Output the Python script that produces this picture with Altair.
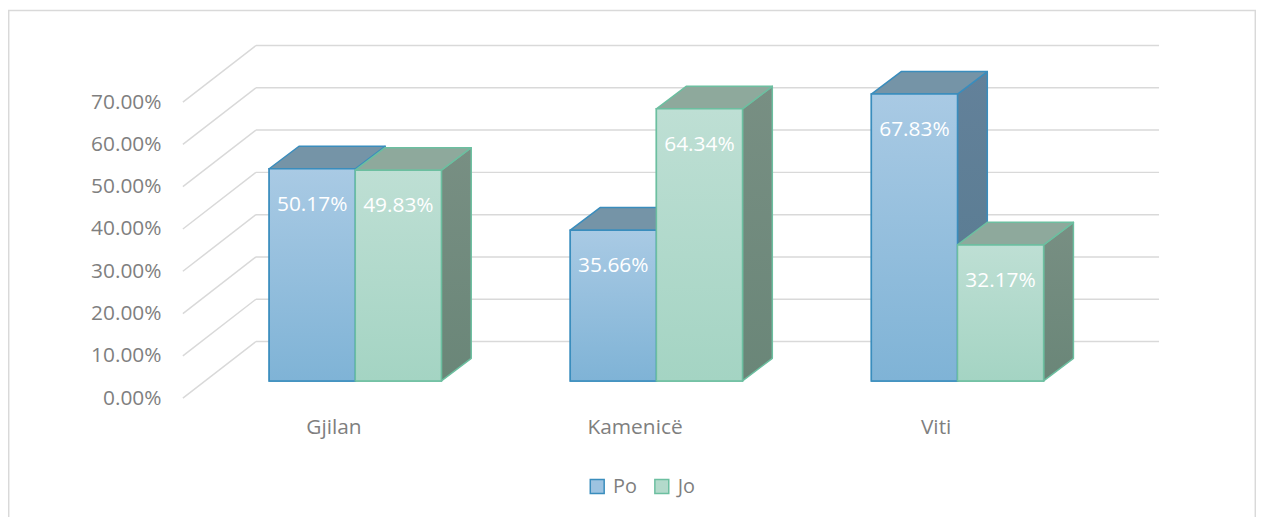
import json
import altair as alt
import pandas as pd

# ---- data ----
categories = ["Gjilan", "Kamenicë", "Viti"]
series = ["Po", "Jo"]
po_values = [50.17, 35.66, 67.83]
jo_values = [49.83, 64.34, 32.17]
y_ticks = [0, 10, 20, 30, 40, 50, 60, 70]

# ---- geometry of the oblique 3-D projection (style constants, data units) ----
BAR_W = 0.286                      # width of one bar (category spacing = 1)
FRONT_DX, FRONT_DY = 0.0726, 4.07  # bar front plane vs axis plane
DEPTH_DX, DEPTH_DY = 0.099, 5.33   # bar depth
WALL_DX, WALL_DY = 0.2426, 13.39   # back wall vs axis plane
X_MIN, X_MAX = -0.5, 2.8
WALL_RIGHT = 2.742

FONT = "Open Sans"
TEXT_GREY = "#7f7f7f"
GRID = "#d9d9d9"

PO_EDGE, JO_EDGE = "#3a8dbd", "#6cbfa0"
PO_LEG, JO_LEG = "#9dc3e1", "#b3dacb"


def vgrad(top, bottom):
    return alt.Gradient(
        gradient="linear",
        stops=[alt.GradientStop(color=top, offset=0), alt.GradientStop(color=bottom, offset=1)],
        x1=0, x2=0, y1=0, y2=1,
    )


PO_FRONT = vgrad("#a9cae4", "#7fb3d6")
JO_FRONT = vgrad("#bedfd4", "#a4d4c3")
PO_TOP = "#7594a7"
JO_TOP = "#8ea99c"
PO_SIDE = vgrad("#63819a", "#567a8f")
JO_SIDE = vgrad("#788f83", "#6a8678")

# ---- derived tables ----
bar_rows, top_rows, side_rows = [], [], []
for i, cat in enumerate(categories):
    for s, vals in zip(series, [po_values, jo_values]):
        v = vals[i]
        key = f"{cat}-{s}"
        xl = i + FRONT_DX + (-BAR_W if s == "Po" else 0.0)
        xr = xl + BAR_W
        yb = FRONT_DY
        yt = v + FRONT_DY
        bar_rows.append(dict(key=key, cat=cat, series=s, value=v, xl=xl, xr=xr,
                             xc=(xl + xr) / 2, yb=yb, yt=yt))
        top_rows.append(dict(key=key, series=s, y=yt, x=xl, x2=xr))
        top_rows.append(dict(key=key, series=s, y=yt + DEPTH_DY, x=xl + DEPTH_DX, x2=xr + DEPTH_DX))
        side_rows.append(dict(key=key, series=s, x=xr, y=yb, y2=yt))
        side_rows.append(dict(key=key, series=s, x=xr + DEPTH_DX, y=yb + DEPTH_DY, y2=yt + DEPTH_DY))

bars = pd.DataFrame(bar_rows)
tops = pd.DataFrame(top_rows)
sides = pd.DataFrame(side_rows)
grid = pd.DataFrame(dict(y=y_ticks))
grid["yw"] = grid["y"] + WALL_DY
grid["xf"] = X_MIN
grid["xw"] = X_MIN + WALL_DX
grid["xr"] = WALL_RIGHT

xs = alt.Scale(domain=[X_MIN, X_MAX], nice=False, zero=False)
ys = alt.Scale(domain=[0, 90], nice=False, zero=False)

x_axis = alt.Axis(
    values=[0, 1, 2], title=None, grid=False, domain=False, ticks=False, tickSize=0,
    labelExpr=json.dumps(categories, ensure_ascii=False) + "[datum.value]",
    labelBaseline="middle", labelPadding=30, labelFont=FONT, labelFontSize=21,
    labelColor=TEXT_GREY, labelFlush=False, zindex=1,
)
y_axis = alt.Axis(
    values=y_ticks, title=None, grid=False, domain=False, ticks=False, tickSize=0,
    labelExpr="format(datum.value, '.2f') + '%'", labelPadding=22,
    labelFont=FONT, labelFontSize=21, labelColor=TEXT_GREY, labelFlush=False, zindex=1,
)


def X(field):
    return alt.X(field, type="quantitative", scale=xs, axis=x_axis)


def Y(field):
    return alt.Y(field, type="quantitative", scale=ys, axis=y_axis)


# frame around the chart
frame = alt.Chart(pd.DataFrame([{"a": 1}])).mark_rect(
    fill="white", fillOpacity=0, stroke=GRID, strokeWidth=1.5
).encode(
    x=alt.value(-175.3), x2=alt.value(1079.3), y=alt.value(-7), y2=alt.value(700)
)

diag = alt.Chart(grid).mark_rule(color=GRID, strokeWidth=1.5).encode(
    x=X("xf"), x2="xw:Q", y=Y("y"), y2="yw:Q",
)
wall = alt.Chart(grid).mark_rule(color=GRID, strokeWidth=1.5).encode(
    x=X("xw"), x2="xr:Q", y=Y("yw"),
)

legend = alt.Legend(
    title=None, orient="none", legendX=407, legendY=462, direction="horizontal",
    symbolType="square", symbolSize=196, symbolStrokeWidth=1.5,
    labelFont=FONT, labelFontSize=20, labelColor=TEXT_GREY,
    labelOffset=6, columnPadding=14, padding=0,
)

legend_layer = alt.Chart(bars).mark_rect(strokeWidth=1.5).encode(
    x=X("xl"), x2="xr:Q", y=Y("yb"), y2="yt:Q",
    fill=alt.Fill("series:N", scale=alt.Scale(domain=series, range=[PO_LEG, JO_LEG]), legend=legend),
    stroke=alt.Stroke("series:N", scale=alt.Scale(domain=series, range=[PO_EDGE, JO_EDGE]), legend=legend),
)


def faces(s, front_fill, top_fill, side_fill, edge):
    flt = f"datum.series == '{s}'"
    side = alt.Chart(sides).transform_filter(flt).mark_area(
        orient="vertical", fill=side_fill, stroke=edge, strokeWidth=1.5, strokeJoin="round"
    ).encode(
        x=X("x"), y=Y("y"), y2="y2:Q", detail="key:N",
    )
    top = alt.Chart(tops).transform_filter(flt).mark_area(
        orient="horizontal", fill=top_fill, stroke=edge, strokeWidth=1.5, strokeJoin="round"
    ).encode(
        y=Y("y"), x=X("x"), x2="x2:Q", detail="key:N",
    )
    front = alt.Chart(bars).transform_filter(flt).mark_rect(
        fill=front_fill, stroke=edge, strokeWidth=1.5
    ).encode(
        x=X("xl"), x2="xr:Q", y=Y("yb"), y2="yt:Q",
    )
    return [side, top, front]


labels = alt.Chart(bars).transform_calculate(
    label="format(datum.value, '.2f') + '%'"
).mark_text(
    color="white", font=FONT, fontSize=21, dy=36, baseline="middle", align="center"
).encode(
    x=X("xc"), y=Y("yt"), text="label:N",
)

layers = [frame, diag, wall, legend_layer]
layers += faces("Po", PO_FRONT, PO_TOP, PO_SIDE, PO_EDGE)
layers += faces("Jo", JO_FRONT, JO_TOP, JO_SIDE, JO_EDGE)
layers += [labels]

chart = alt.layer(*layers).properties(
    width=1000, height=383,
    autosize=alt.AutoSizeParams(type="none"),
    padding={"left": 176, "top": 8, "right": 80, "bottom": 118},
    background="white",
).configure_view(strokeWidth=0)

chart.save("out.html", embed_options={"renderer": "svg", "actions": False})
